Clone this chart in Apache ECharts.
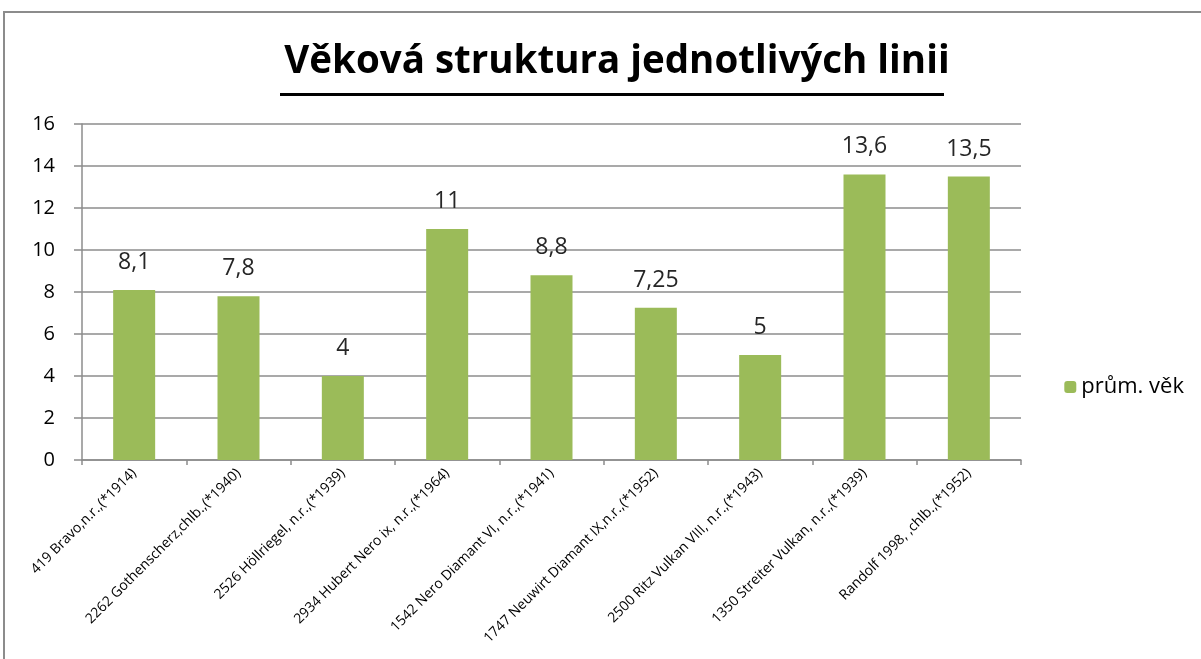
<!DOCTYPE html>
<html>
<head>
<meta charset="utf-8">
<script src="https://cdn.jsdelivr.net/npm/echarts@6/dist/echarts.min.js"></script>
<style>
  html, body { margin: 0; padding: 0; background: #fff; }
  #chart { width: 1201px; height: 659px; }
</style>
</head>
<body>
<div id="chart"></div>
<script>
const categories = [
  '419 Bravo,n.r.,(*1914)',
  '2262 Gothenscherz,chlb.,(*1940)',
  '2526 Höllriegel, n.r.,(*1939)',
  '2934 Hubert Nero ix, n.r.,(*1964)',
  '1542 Nero Diamant VI, n.r.,(*1941)',
  '1747 Neuwirt Diamant IX,n.r.,(*1952)',
  '2500 Ritz Vulkan VIII, n.r.,(*1943)',
  '1350 Streiter Vulkan, n.r.,(*1939)',
  'Randolf 1998, ,chlb.,(*1952)'
];
const avgAge = [8.1, 7.8, 4, 11, 8.8, 7.25, 5, 13.6, 13.5];
const yTicks = [0, 2, 4, 6, 8, 10, 12, 14, 16];

const chart = echarts.init(document.getElementById('chart'));

const option = {
  animation: false,
  backgroundColor: '#fff',
  title: {
    text: 'Věková struktura jednotlivých linii',
    left: 612,
    top: 38,
    textAlign: 'center',
    textStyle: {
      fontFamily: 'Open Sans',
      fontSize: 38.5,
      fontWeight: 'bold',
      color: '#000'
    }
  },
  graphic: [
    {
      type: 'polyline',
      shape: { points: [[4, 659], [4, 12], [1201, 12]] },
      style: { stroke: '#8c8c8c', lineWidth: 2, fill: null }
    },
    {
      type: 'rect',
      shape: { x: 280, y: 93, width: 664, height: 3 },
      style: { fill: '#000' }
    }
  ],
  legend: {
    right: 12,
    top: 371,
    itemWidth: 12,
    itemHeight: 12,
    itemGap: 6,
    textStyle: { fontFamily: 'Open Sans', fontSize: 22, color: '#000', padding: [0, 0, 0, 0] },
    data: ['prům. věk']
  },
  grid: {
    left: 82,
    right: 180,
    top: 124,
    bottom: 199,
    containLabel: false
  },
  xAxis: {
    type: 'category',
    data: categories,
    axisLine: { lineStyle: { color: '#8c8c8c', width: 1.5 } },
    axisTick: { show: true, alignWithLabel: false, length: 5, lineStyle: { color: '#8c8c8c', width: 1.5 } },
    axisLabel: {
      rotate: 45,
      interval: 0,
      margin: 11,
      fontFamily: 'Open Sans',
      fontSize: 14,
      color: '#000'
    }
  },
  yAxis: {
    type: 'value',
    min: yTicks[0],
    max: yTicks[yTicks.length - 1],
    interval: 2,
    axisLine: { show: true, lineStyle: { color: '#8c8c8c', width: 1.5 } },
    axisTick: { show: true, length: 8, lineStyle: { color: '#8c8c8c', width: 1.5 } },
    splitLine: { lineStyle: { color: '#8c8c8c', width: 1.5 } },
    axisLabel: {
      margin: 27,
      fontFamily: 'Open Sans',
      fontSize: 20,
      color: '#000'
    }
  },
  series: [
    {
      name: 'prům. věk',
      type: 'bar',
      data: avgAge,
      barWidth: 42,
      itemStyle: { color: '#9bbb59' },
      label: {
        show: true,
        position: 'top',
        distance: 16,
        fontFamily: 'Open Sans',
        fontSize: 23,
        color: '#262626',
        formatter: p => String(p.value).replace('.', ',')
      }
    }
  ]
};

chart.setOption(option);
</script>
</body>
</html>
